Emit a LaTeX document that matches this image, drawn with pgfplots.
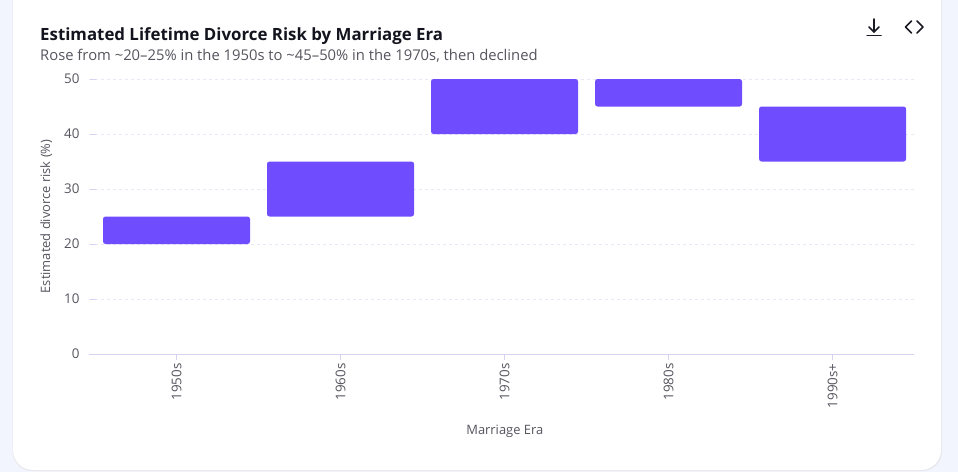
\documentclass[border=0pt]{standalone}
\usepackage{pgfplots}
\pgfplotsset{compat=1.18}
\usepackage{fontspec}
\setmainfont{Open Sans}
\definecolor{bgc}{HTML}{F3F5FE}
\definecolor{shadowc}{HTML}{E6E6EC}
\definecolor{barc}{HTML}{6F4DFF}
\definecolor{axc}{HTML}{D6D3F2}
\definecolor{gridc}{HTML}{E9E8F6}
\definecolor{titlec}{HTML}{14141F}
\definecolor{subc}{HTML}{55555F}
\definecolor{iconc}{HTML}{1A1A24}
\pgfplotstableread{
x low span
0 20 5
1 25 10
2 40 10
3 45 5
4 35 10
}\risk
\begin{document}
\begin{tikzpicture}[x=1pt,y=1pt]
\useasboundingbox (0,0) rectangle (958,472);
\fill[bgc] (0,0) rectangle (958,472);
\begin{scope}
\clip (0,0) rectangle (958,472);
\fill[shadowc,rounded corners=20pt] (12.5,1) rectangle (942,500);
\fill[white,rounded corners=20pt] (13,2) rectangle (941,500);
\end{scope}
\node[anchor=base west,inner sep=0,font=\fontsize{16.85}{20}\selectfont\bfseries,text=titlec] at (40,431.5) {Estimated Lifetime Divorce Risk by Marriage Era};
\node[anchor=base west,inner sep=0,font=\fontsize{14.8}{16}\selectfont,text=subc] at (40,411.5) {Rose from \char`\~20–25\% in the 1950s to \char`\~45–50\% in the 1970s, then declined};
\begin{axis}[
  at={(89pt,118pt)},anchor=south west,
  scale only axis,width=825pt,height=275pt,
  xmin=-0.5335,xmax=4.4965,ymin=0,ymax=50,
  ybar stacked,bar width=147pt,
  xtick=data,xticklabels={1950s,1960s,1970s,1980s,1990s+},
  ytick={0,10,20,30,40,50},
  axis x line*=bottom,axis y line*=left,
  y axis line style={draw=none},
  x axis line style={draw=axc,line width=1pt},
  tick align=outside,major tick length=6pt,
  x tick style={draw=axc,line width=1pt},
  y tick style={draw=axc,line width=1pt,xshift=7pt},
  ymajorgrids,
  grid style={draw=gridc,line width=0.8pt,dash pattern=on 3pt off 3pt},
  tick label style={font=\fontsize{13.4}{15}\selectfont,text=subc},
  /pgf/number format/assume math mode=true,
  x tick label style={rotate=90,anchor=east},
  xlabel={Marriage Era},
  ylabel={Estimated divorce risk (\%)},
  label style={font=\fontsize{12.9}{15}\selectfont,text=subc},
  xlabel style={at={(axis description cs:0.504,0)},anchor=base,yshift=-80pt},
  ylabel style={at={(axis description cs:0,0.5)},anchor=base,yshift=39pt},
  clip=false,
]
\addplot[draw=none,fill=none,forget plot] table[x=x,y=low]{\risk};
\addplot[fill=barc,draw=none,rounded corners=2.5pt] table[x=x,y=span]{\risk};
\end{axis}
\begin{scope}[draw=iconc,line width=1.5pt,line cap=round,line join=round]
\draw (874,453) -- (874,440);
\draw (869,445) -- (874,440) -- (879,445);
\draw (867,436.5) -- (881,436.5);
\draw (911.5,451) -- (905.5,445) -- (911.5,439);
\draw (917,451) -- (923,445) -- (917,439);
\end{scope}
\end{tikzpicture}
\end{document}
